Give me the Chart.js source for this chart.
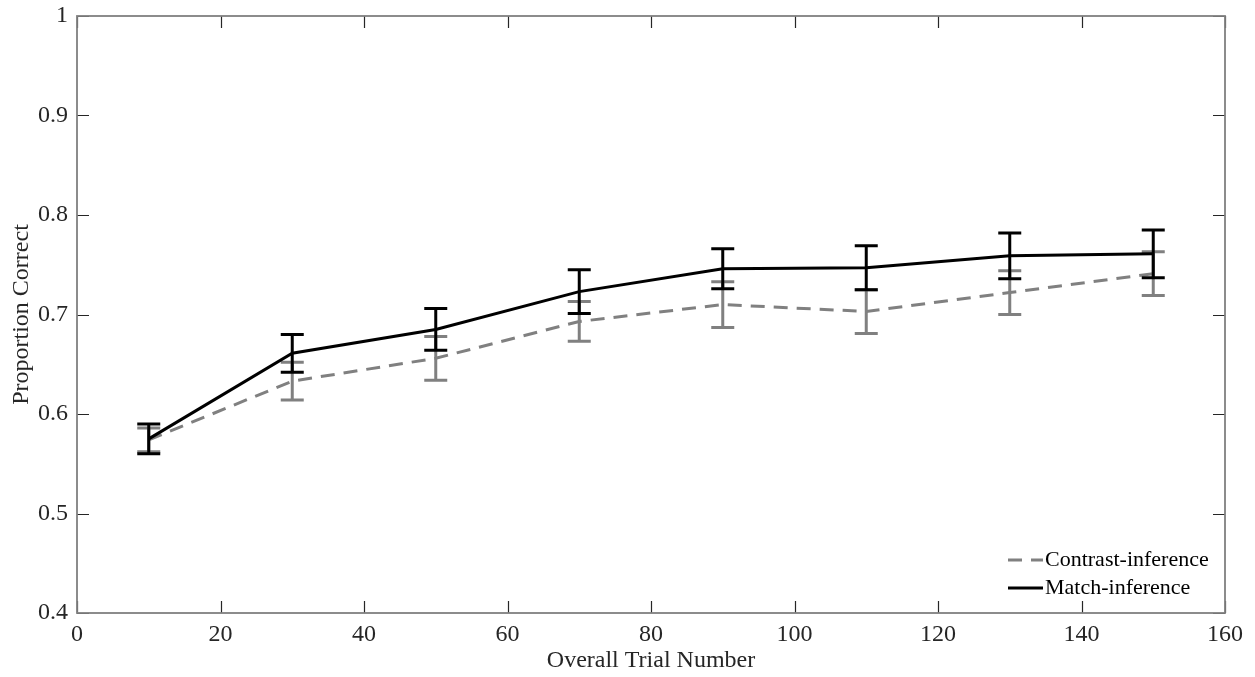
<!DOCTYPE html>
<html>
<head>
<meta charset="utf-8">
<title>Proportion Correct by Trial</title>
<script src="https://cdn.jsdelivr.net/npm/chart.js@4/dist/chart.umd.min.js"></script>
<style>
    html, body { margin: 0; padding: 0; background: #ffffff; }
    canvas { display: block; }
</style>
</head>
<body>
<canvas id="trialChart" width="1255" height="677"></canvas>
<script>
// Trial bins (x) and proportion correct per condition
const trials = [10, 30, 50, 70, 90, 110, 130, 150];

const contrastMean = [0.574, 0.633, 0.656, 0.693, 0.710, 0.703, 0.722, 0.741];
const contrastErr  = [0.012, 0.019, 0.022, 0.020, 0.023, 0.022, 0.022, 0.022];

const matchMean = [0.575, 0.661, 0.685, 0.723, 0.746, 0.747, 0.759, 0.761];
const matchErr  = [0.015, 0.019, 0.021, 0.022, 0.020, 0.022, 0.023, 0.024];

const xTicks = [0, 20, 40, 60, 80, 100, 120, 140, 160];
const yTicks = [0.4, 0.5, 0.6, 0.7, 0.8, 0.9, 1];

const seriesNames = ['Contrast-inference', 'Match-inference'];

const FONT_FAMILY = "'Times New Roman', 'Liberation Serif', 'DejaVu Serif', serif";
const GRAY = '#808080';
const BLACK = '#000000';

// Build point list for a series
function toPoints(means) {
    return trials.map((t, i) => ({ x: t, y: means[i] }));
}

// Draw the vertical error bars with caps for one dataset
const errorBarPlugin = {
    id: 'errorBars',
    beforeDatasetDraw(chart, args) {
        const ds = chart.data.datasets[args.index];
        if (!ds.errors) return;
        const ctx = chart.ctx;
        const xs = chart.scales.x;
        const ys = chart.scales.y;
        const capHalf = 11.5;

        ctx.save();
        ctx.strokeStyle = ds.borderColor;
        ctx.lineWidth = 3;
        ctx.setLineDash([]);
        ds.data.forEach((pt, i) => {
            const px = xs.getPixelForValue(pt.x);
            const top = ys.getPixelForValue(pt.y + ds.errors[i]);
            const bottom = ys.getPixelForValue(pt.y - ds.errors[i]);
            ctx.beginPath();
            ctx.moveTo(px, top);
            ctx.lineTo(px, bottom);
            ctx.moveTo(px - capHalf, top);
            ctx.lineTo(px + capHalf, top);
            ctx.moveTo(px - capHalf, bottom);
            ctx.lineTo(px + capHalf, bottom);
            ctx.stroke();
        });
        ctx.restore();
    }
};

// Box around the axes with inward ticks on all four sides
const boxPlugin = {
    id: 'axesBox',
    afterDraw(chart) {
        const ctx = chart.ctx;
        const area = chart.chartArea;
        const xs = chart.scales.x;
        const ys = chart.scales.y;
        const tickLen = 12;

        ctx.save();
        ctx.strokeStyle = '#262626';
        ctx.lineWidth = 1.2;
        ctx.beginPath();
        xTicks.forEach(v => {
            const px = Math.round(xs.getPixelForValue(v)) + 0.5;
            ctx.moveTo(px, area.bottom);
            ctx.lineTo(px, area.bottom - tickLen);
            ctx.moveTo(px, area.top);
            ctx.lineTo(px, area.top + tickLen);
        });
        yTicks.forEach(v => {
            const py = Math.round(ys.getPixelForValue(v)) + 0.5;
            ctx.moveTo(area.left, py);
            ctx.lineTo(area.left + tickLen, py);
            ctx.moveTo(area.right, py);
            ctx.lineTo(area.right - tickLen, py);
        });
        ctx.stroke();

        ctx.strokeStyle = GRAY;
        ctx.lineWidth = 1.8;
        ctx.strokeRect(area.left, area.top, area.right - area.left, area.bottom - area.top);
        ctx.restore();
    }
};

// Legend in the lower right corner of the axes
const legendPlugin = {
    id: 'cornerLegend',
    afterDraw(chart) {
        const ctx = chart.ctx;
        const area = chart.chartArea;
        const lineStart = area.left + 931;
        const lineEnd = lineStart + 35;
        const rows = [area.bottom - 53, area.bottom - 25];

        ctx.save();
        ctx.font = '22px ' + FONT_FAMILY;
        ctx.textBaseline = 'middle';
        ctx.textAlign = 'left';
        chart.data.datasets.forEach((ds, i) => {
            const y = rows[i];
            ctx.strokeStyle = ds.borderColor;
            ctx.lineWidth = 3;
            ctx.setLineDash(ds.borderDash || []);
            ctx.beginPath();
            ctx.moveTo(lineStart, y);
            ctx.lineTo(lineEnd, y);
            ctx.stroke();
            ctx.setLineDash([]);
            ctx.fillStyle = '#000000';
            ctx.fillText(ds.label, lineEnd + 2, y);
        });
        ctx.restore();
    }
};

function initializeChart() {
    const ctx = document.getElementById('trialChart');

    new Chart(ctx, {
        type: 'line',
        data: {
            datasets: [{
                label: seriesNames[0],
                data: toPoints(contrastMean),
                errors: contrastErr,
                borderColor: GRAY,
                borderWidth: 3,
                borderDash: [14, 9],
                pointRadius: 0,
                fill: false,
                tension: 0,
                order: 1
            }, {
                label: seriesNames[1],
                data: toPoints(matchMean),
                errors: matchErr,
                borderColor: BLACK,
                borderWidth: 3,
                pointRadius: 0,
                fill: false,
                tension: 0,
                order: 0
            }]
        },
        options: {
            responsive: false,
            animation: false,
            layout: {
                padding: { top: 16, right: 30, bottom: 0, left: 0 }
            },
            plugins: {
                legend: { display: false },
                tooltip: { enabled: false },
                title: { display: false }
            },
            scales: {
                x: {
                    type: 'linear',
                    min: 0,
                    max: 160,
                    afterBuildTicks: scale => {
                        scale.ticks = xTicks.map(v => ({ value: v }));
                    },
                    afterFit: scale => {
                        scale.height = 64;
                        scale.paddingLeft = 0;
                        scale.paddingRight = 0;
                    },
                    grid: { display: false, drawTicks: false },
                    border: { display: false },
                    ticks: {
                        padding: 7,
                        color: '#262626',
                        maxRotation: 0,
                        font: { family: FONT_FAMILY, size: 24 }
                    },
                    title: {
                        display: true,
                        text: 'Overall Trial Number',
                        color: '#262626',
                        padding: { top: 0, bottom: 2 },
                        font: { family: FONT_FAMILY, size: 24 }
                    }
                },
                y: {
                    type: 'linear',
                    min: 0.4,
                    max: 1,
                    afterBuildTicks: scale => {
                        scale.ticks = yTicks.map(v => ({ value: v }));
                    },
                    afterFit: scale => {
                        scale.width = 77;
                        scale.paddingTop = 0;
                        scale.paddingBottom = 0;
                    },
                    grid: { display: false, drawTicks: false },
                    border: { display: false },
                    ticks: {
                        padding: 9,
                        color: '#262626',
                        font: { family: FONT_FAMILY, size: 24 },
                        callback: v => String(+v.toFixed(1))
                    },
                    title: {
                        display: true,
                        text: 'Proportion Correct',
                        color: '#262626',
                        padding: { top: 7, bottom: 0 },
                        font: { family: FONT_FAMILY, size: 24 }
                    }
                }
            }
        },
        plugins: [errorBarPlugin, boxPlugin, legendPlugin]
    });
}

initializeChart();
</script>
</body>
</html>
